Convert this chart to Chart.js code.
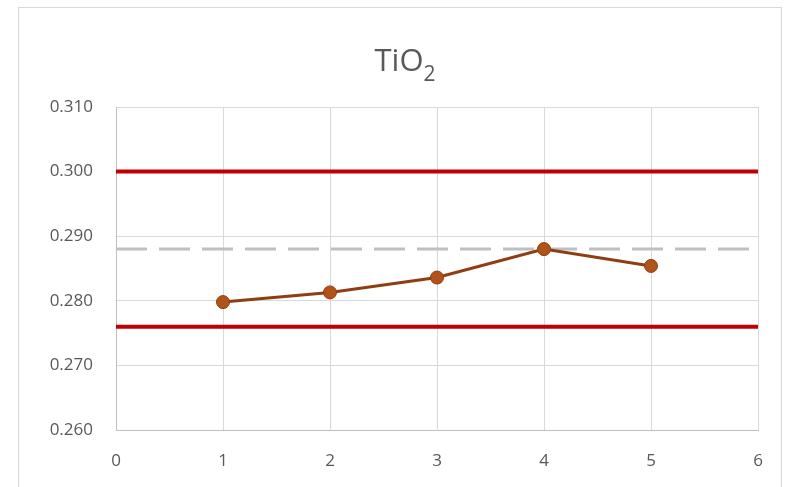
<!DOCTYPE html>
<html>
<head>
<meta charset="utf-8">
<script src="https://cdn.jsdelivr.net/npm/chart.js@4/dist/chart.umd.min.js"></script>
<style>
  html, body { margin: 0; padding: 0; background: #ffffff; }
  #wrap { position: relative; width: 789px; height: 487px; overflow: hidden; }
  #frame { position: absolute; left: 18px; top: 7px; width: 764px; height: 490px;
           border: 1px solid #d9d9d9; box-sizing: border-box; }
  #title { position: absolute; left: 0; width: 810px; top: 38px; text-align: center;
           font-family: "Open Sans", sans-serif; font-size: 31px; color: #595959; }
  #title sub { font-size: 21px; vertical-align: -10px; line-height: 0; }
  canvas { position: absolute; left: 0; top: 0; }
</style>
</head>
<body>
<div id="wrap">
  <div id="frame"></div>
  <canvas id="c" width="789" height="487"></canvas>
  <div id="title">TiO<sub>2</sub></div>
</div>
<script>
// Sample numbers and measured TiO2 values
const samples = [1, 2, 3, 4, 5];
const tio2 = [0.2798, 0.2813, 0.2836, 0.2880, 0.2854];

// Control limits and centre line, spanning the whole x range
const limitX = [0, 6];
const upperLimit = 0.300;
const lowerLimit = 0.276;
const centreLine = 0.288;

// Axis ticks
const xTicks = [0, 1, 2, 3, 4, 5, 6];
const yTicks = [0.260, 0.270, 0.280, 0.290, 0.300, 0.310];

const level = v => limitX.map(x => ({ x: x, y: v }));

const tickFont = { family: "'Open Sans', sans-serif", size: 17 };

new Chart(document.getElementById('c'), {
  type: 'line',
  data: {
    datasets: [
      {
        label: 'TiO2',
        data: samples.map((s, i) => ({ x: s, y: tio2[i] })),
        borderColor: '#8e3e10',
        borderWidth: 3,
        pointRadius: 6.5,
        pointHoverRadius: 6.5,
        pointBackgroundColor: '#b0521a',
        pointBorderColor: '#8e3e10',
        pointBorderWidth: 1,
        order: 0
      },
      {
        label: 'UCL',
        data: level(upperLimit),
        borderColor: '#c00000',
        borderWidth: 4,
        pointRadius: 0,
        order: 1
      },
      {
        label: 'LCL',
        data: level(lowerLimit),
        borderColor: '#c00000',
        borderWidth: 4,
        pointRadius: 0,
        order: 1
      },
      {
        label: 'Mean',
        data: level(centreLine),
        borderColor: '#bfbfbf',
        borderWidth: 3,
        borderDash: [31, 12],
        pointRadius: 0,
        order: 2
      }
    ]
  },
  options: {
    responsive: false,
    animation: false,
    layout: { padding: { left: 0, top: 107, right: 31, bottom: 0 } },
    plugins: {
      legend: { display: false },
      title: { display: false },
      tooltip: { enabled: false }
    },
    scales: {
      x: {
        type: 'linear',
        min: 0,
        max: 6,
        afterBuildTicks: s => { s.ticks = xTicks.map(v => ({ value: v })); },
        afterFit: s => { s.height = 57; },
        grid: { color: '#d9d9d9', lineWidth: 1, drawTicks: false },
        border: { color: '#bfbfbf', width: 1 },
        ticks: { color: '#595959', font: tickFont, padding: 21 }
      },
      y: {
        min: 0.260,
        max: 0.310,
        afterBuildTicks: s => { s.ticks = yTicks.map(v => ({ value: v })); },
        afterFit: s => { s.width = 116; },
        grid: { color: '#d9d9d9', lineWidth: 1, drawTicks: false },
        border: { color: '#bfbfbf', width: 1 },
        ticks: {
          color: '#595959',
          font: tickFont,
          padding: 23,
          callback: v => v.toFixed(3)
        }
      }
    }
  }
});
</script>
</body>
</html>
